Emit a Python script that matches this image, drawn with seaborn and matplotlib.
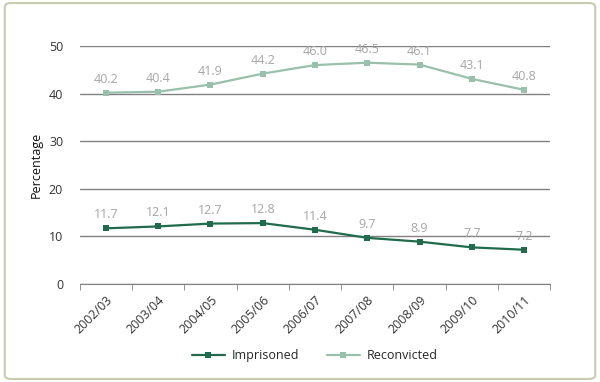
import matplotlib
matplotlib.use("Agg")
import matplotlib.pyplot as plt
import pandas as pd
import seaborn as sns
from matplotlib.patches import FancyBboxPatch

# Chart data
years = ["2002/03", "2003/04", "2004/05", "2005/06", "2006/07",
         "2007/08", "2008/09", "2009/10", "2010/11"]
imprisoned = [11.7, 12.1, 12.7, 12.8, 11.4, 9.7, 8.9, 7.7, 7.2]
reconvicted = [40.2, 40.4, 41.9, 44.2, 46.0, 46.5, 46.1, 43.1, 40.8]
series_names = ["Imprisoned", "Reconvicted"]
colors = ["#1f6b4c", "#98c0aa"]

df = pd.DataFrame({
    "Year": years * 2,
    "Value": imprisoned + reconvicted,
    "Series": [series_names[0]] * len(years) + [series_names[1]] * len(years),
})

sns.set_style("white")
plt.rcParams["font.family"] = ["Open Sans", "DejaVu Sans"]

fig = plt.figure(figsize=(6, 3.82), dpi=100)
ax = fig.add_axes([0.133, 0.2565, 0.784, 0.623])

# outer frame
fig.patches.append(FancyBboxPatch((0.008, 0.008), 0.984, 0.984,
                                  boxstyle="round,pad=0,rounding_size=0.01",
                                  transform=fig.transFigure, fill=False,
                                  edgecolor="#c9ccb0", linewidth=1.5))

sns.lineplot(data=df, x="Year", y="Value", hue="Series", palette=colors,
             marker="s", markersize=5, markeredgewidth=0, linewidth=1.6,
             sort=False, ax=ax, legend=True)

# data labels
for vals in (imprisoned, reconvicted):
    for i, v in enumerate(vals):
        ax.annotate(f"{v:.1f}", (i, v), xytext=(0, 5), textcoords="offset points",
                    ha="center", va="bottom", fontsize=9, color="#a6a6a6")

ax.set_ylim(0, 50)
ax.set_xlim(-0.5, len(years) - 0.5)
ax.set_yticks([0, 10, 20, 30, 40, 50])
ax.yaxis.grid(True, color="#808080", linewidth=1)
ax.set_axisbelow(True)
for side in ["top", "right", "left"]:
    ax.spines[side].set_visible(False)
ax.spines["bottom"].set_color("#808080")

ax.set_xticks(range(len(years)))
ax.set_xticklabels(years, rotation=45, ha="right", rotation_mode="anchor",
                   fontsize=9, color="#333333")
ax.set_xticks([i - 0.5 for i in range(len(years) + 1)], minor=True)
ax.tick_params(axis="x", which="major", length=0, pad=7)
ax.tick_params(axis="x", which="minor", length=4, color="#808080", direction="out",
               bottom=True)
ax.tick_params(axis="y", length=0, labelsize=9, labelcolor="#333333", pad=12)

ax.set_xlabel("")
ax.set_ylabel("Percentage", fontsize=9, color="#111111", labelpad=4)

handles, labels = ax.get_legend_handles_labels()
ax.legend(handles, labels, loc="center", bbox_to_anchor=(0.5, -0.30),
          ncol=2, frameon=False, fontsize=9, handlelength=2.6,
          handletextpad=0.6, columnspacing=2.2)

plt.savefig("out.png", dpi=100)
plt.close()
